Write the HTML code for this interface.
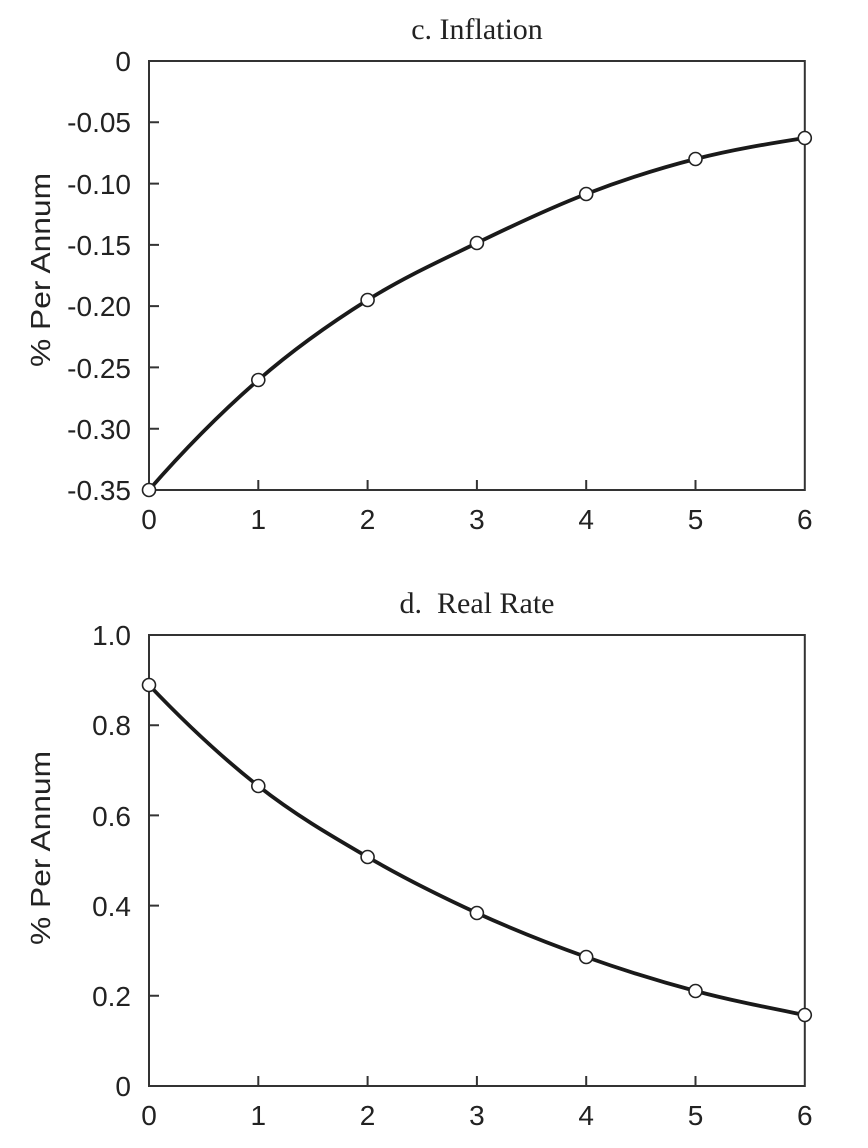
<!DOCTYPE html>
<html><head><meta charset="utf-8"><style>
html,body{margin:0;padding:0;background:#fff;}
svg{display:block;}
.t{font-family:"Liberation Sans",Arial,sans-serif;font-size:28px;fill:#222;}
.ti{font-family:"Liberation Serif","Times New Roman",serif;font-size:30px;fill:#222;}
</style></head><body>
<svg width="868" height="1148" viewBox="0 0 868 1148" xmlns="http://www.w3.org/2000/svg">
<g stroke="#333" stroke-width="2" fill="none">
<rect x="149" y="61" width="655.8" height="429"/>
<rect x="149" y="635" width="655.8" height="451"/>
<path d="M149 122.3h10M149 183.6h10M149 244.9h10M149 306.1h10M149 367.4h10M149 428.7h10"/>
<path d="M258.3 490v-10M367.6 490v-10M476.9 490v-10M586.2 490v-10M695.5 490v-10"/>
<path d="M149 725.2h10M149 815.4h10M149 905.6h10M149 995.8h10"/>
<path d="M258.3 1086v-10M367.6 1086v-10M476.9 1086v-10M586.2 1086v-10M695.5 1086v-10"/>
</g>
<g stroke="#1a1a1a" stroke-width="3.8" fill="none">
<path d="M149,490 C185.4,448.3 221.9,411.7 258.3,380 C294.7,348.3 331.2,322.8 367.6,300 C404,277.2 440.5,260.7 476.9,243 C513.3,225.3 549.8,208 586.2,194 C622.6,180 659.1,168.3 695.5,159 C731.9,149.7 768.4,143.7 804.8,138"/>
<path d="M149,685 C185.4,723.3 221.9,757.3 258.3,786 C294.7,814.7 331.2,835.8 367.6,857 C404,878.2 440.5,896.3 476.9,913 C513.3,929.7 549.8,944 586.2,957 C622.6,970 659.1,981.3 695.5,991 C731.9,1000.7 768.4,1007.7 804.8,1015"/>
</g>
<g fill="#fff" stroke="#222" stroke-width="1.6">
<circle cx="149" cy="490" r="6.5"/><circle cx="258.3" cy="380" r="6.5"/><circle cx="367.6" cy="300" r="6.5"/><circle cx="476.9" cy="243" r="6.5"/><circle cx="586.2" cy="194" r="6.5"/><circle cx="695.5" cy="159" r="6.5"/><circle cx="804.8" cy="138" r="6.5"/>
<circle cx="149" cy="685" r="6.5"/><circle cx="258.3" cy="786" r="6.5"/><circle cx="367.6" cy="857" r="6.5"/><circle cx="476.9" cy="913" r="6.5"/><circle cx="586.2" cy="957" r="6.5"/><circle cx="695.5" cy="991" r="6.5"/><circle cx="804.8" cy="1015" r="6.5"/>
</g>
<text class="ti" x="477" y="39" text-anchor="middle">c. Inflation</text>
<text class="ti" x="477" y="613" text-anchor="middle">d.&#160; Real Rate</text>
<g class="t" text-anchor="end">
<text x="131" y="71">0</text>
<text x="131" y="132">-0.05</text>
<text x="131" y="194">-0.10</text>
<text x="131" y="255">-0.15</text>
<text x="131" y="316">-0.20</text>
<text x="131" y="378">-0.25</text>
<text x="131" y="439">-0.30</text>
<text x="131" y="500">-0.35</text>
<text x="131" y="645">1.0</text>
<text x="131" y="735">0.8</text>
<text x="131" y="826">0.6</text>
<text x="131" y="916">0.4</text>
<text x="131" y="1006">0.2</text>
<text x="131" y="1096">0</text>
</g>
<g class="t" text-anchor="middle">
<text x="149" y="529">0</text><text x="258.3" y="529">1</text><text x="367.6" y="529">2</text><text x="476.9" y="529">3</text><text x="586.2" y="529">4</text><text x="695.5" y="529">5</text><text x="804.8" y="529">6</text>
<text x="149" y="1125">0</text><text x="258.3" y="1125">1</text><text x="367.6" y="1125">2</text><text x="476.9" y="1125">3</text><text x="586.2" y="1125">4</text><text x="695.5" y="1125">5</text><text x="804.8" y="1125">6</text>
<text transform="translate(50,270) rotate(-90)" textLength="194" lengthAdjust="spacingAndGlyphs">% Per Annum</text>
<text transform="translate(50,848) rotate(-90)" textLength="194" lengthAdjust="spacingAndGlyphs">% Per Annum</text>
</g>
</svg>
</body></html>
